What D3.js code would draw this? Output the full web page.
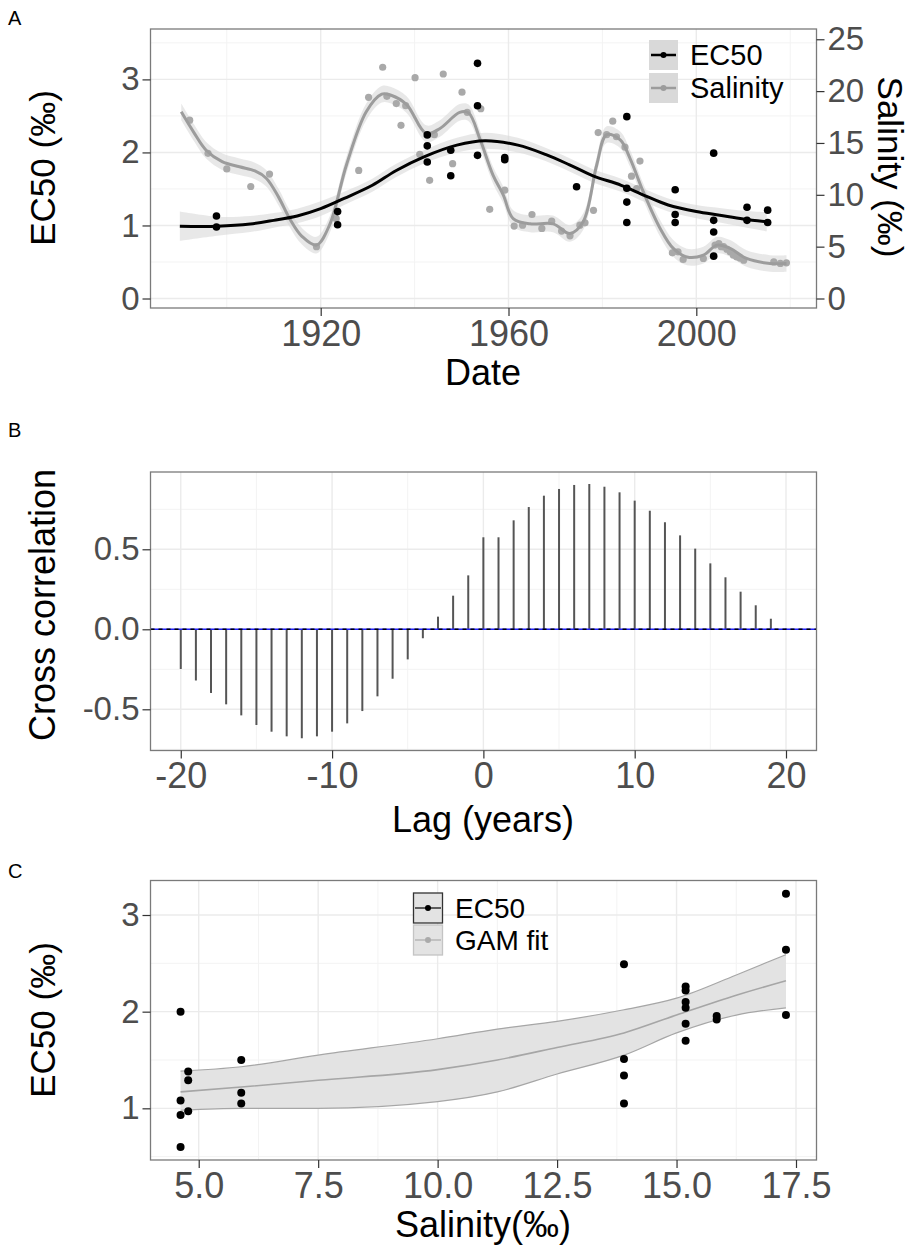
<!DOCTYPE html>
<html>
<head>
<meta charset="utf-8">
<script src="https://cdn.jsdelivr.net/npm/d3@7"></script>
<style>
  body { margin: 0; background: #fff; }
  svg text { font-family: "Liberation Sans", Arial, sans-serif; }
</style>
</head>
<body>
<svg id="fig" width="911" height="1249"></svg>
<script>
// ---- panel A : EC50 and salinity through time ----
const ec50_year = [1897.8, 1897.8, 1923.6, 1923.6, 1942.7, 1942.7, 1942.7, 1947.7, 1947.7, 1953.4, 1953.4, 1953.4,
    1959.2, 1959.2, 1974.5, 1985.2, 1985.2, 1985.2, 1985.2, 1995.5, 1995.5, 1995.5,
    2003.7, 2003.7, 2003.7, 2003.7, 2010.8, 2010.8, 2015.2, 2015.2];
const ec50_value = [1.13, 0.98, 1.19, 1.01, 2.24, 2.09, 1.87, 2.03, 1.68, 3.22, 2.64, 1.96,
    1.93, 1.90, 1.53, 2.49, 1.51, 1.32, 1.04, 1.49, 1.15, 1.04,
    1.99, 1.07, 0.91, 0.58, 1.25, 1.07, 1.21, 1.04];

const sal_year = [1892.1, 1896, 1900, 1905.1, 1909.1, 1919.1, 1923.3, 1928.1, 1930.2, 1933.2, 1934.1, 1936.1,
    1938.1, 1937.1, 1940.1, 1941.1, 1943.2, 1944.2, 1946.1, 1948.1, 1950.1, 1951.2, 1954.1,
    1956, 1959.2, 1961.2, 1963, 1965, 1967.1, 1969.2, 1971.3, 1973.1, 1975.2, 1976.3, 1978.1,
    1979.1, 1980.9, 1982.2, 1983, 1984.8, 1986.2, 1988, 1987.3, 1994.9, 1996.1, 1997.2,
    2001.5, 2004, 2004.8, 2005.3, 2005.8, 2006.5, 2007.2, 2007.9, 2008.6, 2009.3, 2010.1,
    2016.5, 2017.9, 2019.2];
const sal_value = [17.2, 14.0, 12.5, 10.8, 12.0, 5.0, 7.7, 12.35, 19.4, 22.3, 19.5, 18.8,
    18.6, 16.7, 21.3, 13.9, 11.4, 15.8, 21.65, 13.0, 19.9, 17.95, 18.3,
    8.6, 10.45, 6.98, 7.07, 8.1, 6.76, 7.46, 6.5, 6.04, 7.07, 7.3, 8.5,
    16.0, 15.8, 17.1, 15.6, 14.6, 11.8, 13.25, 10.6, 4.4, 4.5, 3.76,
    3.86, 5.15, 5.3, 5.0, 5.0, 4.76, 4.5, 4.18, 4.0, 3.9, 3.7,
    3.53, 3.38, 3.44];

// smoothed fits (year, fit, half width of band)
const ec50_fit_year = [1890, 1898, 1905, 1910, 1915, 1920, 1925, 1931, 1936, 1942, 1949, 1955, 1962, 1968,
    1973, 1978, 1984, 1989, 1994, 2000, 2005, 2010, 2015];
const ec50_fit = [0.99, 0.99, 1.02, 1.07, 1.13, 1.23, 1.37, 1.55, 1.75, 1.94, 2.10, 2.16, 2.10, 1.97,
    1.83, 1.68, 1.55, 1.41, 1.28, 1.19, 1.14, 1.09, 1.05];
const ec50_se = [0.2, 0.13, 0.11, 0.1, 0.1, 0.1, 0.09, 0.09, 0.09, 0.09, 0.1, 0.11, 0.1, 0.09,
    0.09, 0.09, 0.09, 0.09, 0.09, 0.09, 0.1, 0.11, 0.13];

const sal_fit_year = [1890.3, 1893, 1895.6, 1899, 1902.7, 1906, 1908.4, 1911, 1913.4, 1916, 1919.1, 1921.9,
    1925.5, 1929.7, 1933, 1935, 1938.3, 1942.5, 1945.4, 1949.6, 1951.5, 1953.9, 1956.7, 1958.9,
    1961, 1964.6, 1969.5, 1973.1, 1975.9, 1978.8, 1980.9, 1983.8, 1985.9, 1988.7, 1992.3, 1995.1,
    1998, 2001.5, 2004.4, 2007.2, 2010.7, 2015.7, 2019.2];
const sal_fit = [18.0, 16.0, 14.3, 13.2, 12.7, 12.3, 11.6, 9.8, 7.7, 6.0, 5.15, 7.1,
    12.9, 18.0, 19.7, 19.6, 18.7, 15.9, 16.4, 17.95, 17.9, 15.4, 11.9, 9.97,
    7.7, 7.2, 7.2, 6.27, 7.4, 12.9, 15.8, 15.3, 13.5, 10.3, 6.76, 4.83,
    4.0, 4.18, 5.15, 4.83, 3.86, 3.38, 3.38];
const sal_se = 0.8;

// ---- panel B : cross correlation ----
const lags = d3.range(-20, 21);
const ccf = [-0.248, -0.32, -0.398, -0.469, -0.538, -0.598, -0.64, -0.669, -0.681, -0.669, -0.64,
    -0.588, -0.511, -0.419, -0.309, -0.188, -0.056, 0.079, 0.21, 0.337,
    0.575, 0.575, 0.681, 0.764, 0.835, 0.877, 0.902, 0.908, 0.891, 0.856, 0.804,
    0.741, 0.669, 0.587, 0.504, 0.412, 0.325, 0.235, 0.15, 0.066, 0.004];

// ---- panel C : EC50 vs salinity ----
const c_sal = [4.62, 4.78, 4.78, 4.62, 4.62, 4.78, 4.62, 5.89, 5.89, 5.89,
    13.9, 13.9, 13.9, 13.9, 15.19, 15.19, 15.19, 15.19, 15.19, 15.19, 15.84, 15.84,
    17.29, 17.29, 17.29];
const c_ec50 = [2.0, 1.38, 1.29, 1.08, 0.93, 0.97, 0.60, 1.50, 1.16, 1.05,
    2.49, 1.51, 1.34, 1.05, 2.26, 2.22, 2.10, 2.04, 1.875, 1.70, 1.955, 1.92,
    3.22, 2.64, 1.965];
const gam_sal = [4.62, 5.89, 7.5, 10.0, 11.25, 12.5, 13.9, 15.0, 16.25, 17.29];
const gam_fit = [1.17, 1.22, 1.29, 1.40, 1.50, 1.63, 1.78, 1.965, 2.17, 2.32];
const gam_lo = [0.98, 1.00, 1.00, 1.07, 1.17, 1.355, 1.55, 1.78, 1.965, 2.04];
const gam_hi = [1.385, 1.43, 1.55, 1.72, 1.82, 1.90, 2.02, 2.14, 2.38, 2.59];

const svg = d3.select('#fig');
const GRID = '#ebebeb', GRID_MINOR = '#f3f3f3', BORDER = '#7a7a7a';
const TICK_TXT = '#4d4d4d';

// background grid + frame for one panel
function frame(x, y, xMajor, xMinor, yMajor, yMinor) {
    const g = svg.append('g');
    const [x0, x1] = x.range(), [y0, y1] = y.range();
    g.selectAll('.vmin').data(xMinor).enter().append('line')
        .attr('x1', d => x(d)).attr('x2', d => x(d)).attr('y1', y0).attr('y2', y1)
        .attr('stroke', GRID_MINOR).attr('stroke-width', 1);
    g.selectAll('.hmin').data(yMinor).enter().append('line')
        .attr('y1', d => y(d)).attr('y2', d => y(d)).attr('x1', x0).attr('x2', x1)
        .attr('stroke', GRID_MINOR).attr('stroke-width', 1);
    g.selectAll('.vmaj').data(xMajor).enter().append('line')
        .attr('x1', d => x(d)).attr('x2', d => x(d)).attr('y1', y0).attr('y2', y1)
        .attr('stroke', GRID).attr('stroke-width', 1.4);
    g.selectAll('.hmaj').data(yMajor).enter().append('line')
        .attr('y1', d => y(d)).attr('y2', d => y(d)).attr('x1', x0).attr('x2', x1)
        .attr('stroke', GRID).attr('stroke-width', 1.4);
    return g;
}
function border(x, y) {
    const [x0, x1] = x.range(), [y0, y1] = y.range();
    svg.append('rect').attr('x', x0).attr('y', y1).attr('width', x1 - x0).attr('height', y0 - y1)
        .attr('fill', 'none').attr('stroke', BORDER).attr('stroke-width', 1.3);
}
function axis(gen, tx, ty, size) {
    const g = svg.append('g').attr('transform', `translate(${tx},${ty})`).call(gen);
    g.select('.domain').remove();
    g.selectAll('.tick line').attr('stroke', '#333').attr('stroke-width', 1.2);
    g.selectAll('.tick text').attr('fill', TICK_TXT).style('font-size', size + 'px');
    return g;
}
function title(txt, x, y, rot, size) {
    svg.append('text').attr('transform', `translate(${x},${y}) rotate(${rot})`)
        .attr('text-anchor', 'middle').attr('dominant-baseline', 'central')
        .style('font-size', size + 'px').attr('fill', '#000').text(txt);
}
function letter(txt, x, y) {
    svg.append('text').attr('x', x).attr('y', y).style('font-size', '20px').text(txt);
}

// ================= Panel A =================
const xA = d3.scaleLinear().domain([1883.75, 2025.6]).range([150.5, 816.5]);
const yA = d3.scaleLinear().domain([-0.13, 3.69]).range([308, 29]);
const yS = d3.scaleLinear().domain([-0.916, 25.99]).range([308, 29]);

frame(xA, yA, [1920, 1960, 2000], [1900, 1940, 1980, 2020], [0, 1, 2, 3], [0.5, 1.5, 2.5, 3.5]);

const curve = d3.curveCatmullRom.alpha(0.5);
// salinity band + line
const salFit = sal_fit_year.map((t, i) => ({t: t, v: sal_fit[i]}));
svg.append('path').datum(salFit)
    .attr('d', d3.area().curve(curve).x(d => xA(d.t)).y0(d => yS(d.v - sal_se)).y1(d => yS(d.v + sal_se)))
    .attr('fill', '#d9d9d9').attr('opacity', 0.6);
// ec50 band
const ecFit = ec50_fit_year.map((t, i) => ({t: t, v: ec50_fit[i], s: ec50_se[i]}));
svg.append('path').datum(ecFit)
    .attr('d', d3.area().curve(curve).x(d => xA(d.t)).y0(d => yA(d.v - d.s)).y1(d => yA(d.v + d.s)))
    .attr('fill', '#d9d9d9').attr('opacity', 0.6);

svg.append('g').selectAll('circle').data(sal_year).enter().append('circle')
    .attr('cx', d => xA(d)).attr('cy', (d, i) => yS(sal_value[i])).attr('r', 3.6)
    .attr('fill', '#a9a9a9');
svg.append('path').datum(salFit)
    .attr('d', d3.line().curve(curve).x(d => xA(d.t)).y(d => yS(d.v)))
    .attr('fill', 'none').attr('stroke', '#9c9c9c').attr('stroke-width', 3);

svg.append('g').selectAll('circle').data(ec50_year).enter().append('circle')
    .attr('cx', d => xA(d)).attr('cy', (d, i) => yA(ec50_value[i])).attr('r', 3.8)
    .attr('fill', '#000');
svg.append('path').datum(ecFit)
    .attr('d', d3.line().curve(curve).x(d => xA(d.t)).y(d => yA(d.v)))
    .attr('fill', 'none').attr('stroke', '#000').attr('stroke-width', 3);

border(xA, yA);
axis(d3.axisLeft(yA).tickValues([0, 1, 2, 3]).tickFormat(d3.format('d')).tickSize(8).tickPadding(3), 150.5, 0, 33);
axis(d3.axisRight(yS).tickValues([0, 5, 10, 15, 20, 25]).tickSize(8).tickPadding(3), 816.5, 0, 33);
axis(d3.axisBottom(xA).tickValues([1920, 1960, 2000]).tickFormat(d3.format('d')).tickSize(8).tickPadding(4), 0, 308, 36);
title('Date', 483, 372, 0, 36);
title('EC50 (‰)', 42, 168, -90, 35);
title('Salinity (‰)', 890, 167, 90, 35);
letter('A', 8, 25);

// legend A
const legA = [{lab: 'EC50', col: '#000'}, {lab: 'Salinity', col: '#9c9c9c'}];
legA.forEach((d, i) => {
    const y0 = 40 + i * 33;
    svg.append('rect').attr('x', 649).attr('y', y0).attr('width', 29).attr('height', 30).attr('fill', '#d9d9d9');
    svg.append('line').attr('x1', 651).attr('x2', 676).attr('y1', y0 + 15).attr('y2', y0 + 15)
        .attr('stroke', d.col).attr('stroke-width', 2.5);
    svg.append('circle').attr('cx', 663.5).attr('cy', y0 + 15).attr('r', 3).attr('fill', d.col);
    svg.append('text').attr('x', 690).attr('y', y0 + 15).attr('dominant-baseline', 'central')
        .style('font-size', '29px').text(d.lab);
});

// ================= Panel B =================
const xB = d3.scaleLinear().domain([-22, 22.016]).range([150.5, 816.5]);
const yB = d3.scaleLinear().domain([-0.7575, 0.983]).range([750.5, 472]);
frame(xB, yB, [-20, -10, 0, 10, 20], [-15, -5, 5, 15], [-0.5, 0, 0.5], [-0.75, -0.25, 0.25, 0.75]);

svg.append('g').selectAll('line').data(lags).enter().append('line')
    .attr('x1', d => xB(d)).attr('x2', d => xB(d))
    .attr('y1', yB(0)).attr('y2', (d, i) => yB(ccf[i]))
    .attr('stroke', '#555').attr('stroke-width', 2);
svg.append('line').attr('x1', 150.5).attr('x2', 816.5).attr('y1', yB(0)).attr('y2', yB(0))
    .attr('stroke', '#2020ff').attr('stroke-width', 1.5);
svg.append('line').attr('x1', 150.5).attr('x2', 816.5).attr('y1', yB(0)).attr('y2', yB(0))
    .attr('stroke', '#000').attr('stroke-width', 1.5).attr('stroke-dasharray', '4,4');

border(xB, yB);
axis(d3.axisLeft(yB).tickValues([-0.5, 0, 0.5]).tickFormat(d3.format('.1f')).tickSize(8).tickPadding(3), 150.5, 0, 33);
axis(d3.axisBottom(xB).tickValues([-20, -10, 0, 10, 20]).tickSize(8).tickPadding(4), 0, 750.5, 36);
svg.selectAll('text').filter(function () { return this.textContent.indexOf('−') >= 0; })
    .text(function () { return this.textContent.replace('−', '-'); });
title('Lag (years)', 483, 819, 0, 36);
title('Cross correlation', 42, 605, -90, 36);
letter('B', 8, 437);

// ================= Panel C =================
const xC = d3.scaleLinear().domain([3.991, 17.929]).range([150.5, 816.5]);
const yC = d3.scaleLinear().domain([0.4654, 3.357]).range([1160, 880.5]);
frame(xC, yC, [5, 7.5, 10, 12.5, 15, 17.5], [6.25, 8.75, 11.25, 13.75, 16.25], [1, 2, 3], [0.5, 1.5, 2.5]);

const gam = gam_sal.map((s, i) => ({s: s, v: gam_fit[i], lo: gam_lo[i], hi: gam_hi[i]}));
const mono = d3.curveMonotoneX;
svg.append('path').datum(gam)
    .attr('d', d3.area().curve(mono).x(d => xC(d.s)).y0(d => yC(d.lo)).y1(d => yC(d.hi)))
    .attr('fill', '#e3e3e3');
['lo', 'hi', 'v'].forEach(k => {
    svg.append('path').datum(gam)
        .attr('d', d3.line().curve(mono).x(d => xC(d.s)).y(d => yC(d[k])))
        .attr('fill', 'none').attr('stroke', '#a6a6a6').attr('stroke-width', k === 'v' ? 1.6 : 1.2);
});
svg.append('g').selectAll('circle').data(c_sal).enter().append('circle')
    .attr('cx', d => xC(d)).attr('cy', (d, i) => yC(c_ec50[i])).attr('r', 4)
    .attr('fill', '#000');

border(xC, yC);
axis(d3.axisLeft(yC).tickValues([1, 2, 3]).tickFormat(d3.format('d')).tickSize(8).tickPadding(3), 150.5, 0, 33);
axis(d3.axisBottom(xC).tickValues([5, 7.5, 10, 12.5, 15, 17.5]).tickFormat(d3.format('.1f')).tickSize(8).tickPadding(4), 0, 1160, 36);
title('Salinity(‰)', 483, 1224, 0, 36);
title('EC50 (‰)', 42, 1020, -90, 35);
letter('C', 8, 878);

// legend C
const legC = [{lab: 'EC50', col: '#000', edge: '#333'}, {lab: 'GAM fit', col: '#aaa', edge: '#c4c4c4'}];
legC.forEach((d, i) => {
    const y0 = 893 + i * 32;
    svg.append('rect').attr('x', 413.5).attr('y', y0).attr('width', 29).attr('height', 30)
        .attr('fill', '#e3e3e3').attr('stroke', d.edge).attr('stroke-width', 1.3);
    svg.append('line').attr('x1', 415).attr('x2', 441).attr('y1', y0 + 15).attr('y2', y0 + 15)
        .attr('stroke', d.col).attr('stroke-width', 1.2);
    svg.append('circle').attr('cx', 428).attr('cy', y0 + 15).attr('r', 3).attr('fill', d.col);
    svg.append('text').attr('x', 455).attr('y', y0 + 15).attr('dominant-baseline', 'central')
        .style('font-size', '28px').text(d.lab);
});
</script>
</body>
</html>
